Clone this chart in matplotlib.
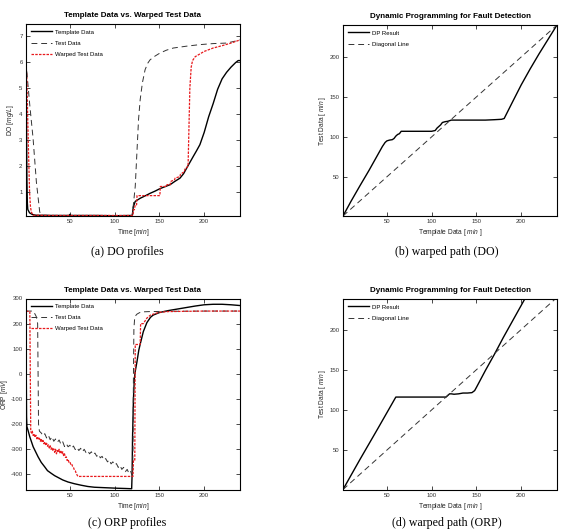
import matplotlib
matplotlib.use("Agg")
import matplotlib.pyplot as plt

plt.rcParams['font.family'] = ['Liberation Sans', 'DejaVu Sans']
plt.rcParams['mathtext.fontset'] = 'custom'
plt.rcParams['mathtext.it'] = 'Liberation Sans:italic'
plt.rcParams['mathtext.rm'] = 'Liberation Sans'
plt.rcParams['axes.unicode_minus'] = False

# ---------------- (a) DO profiles ----------------
do_tpl_t = [1, 1.5, 2, 2.5, 3, 5, 8, 12, 30, 49, 50, 51, 80, 100, 119.8, 120.3, 120.8,
            123, 128.6, 134, 139.7, 145, 150.8, 156, 162, 167, 173, 177, 180.4, 184,
            187.8, 191.5, 195.2, 200, 205, 210, 215, 220, 225, 230, 235, 238, 240]
do_tpl_v = [6.0, 4.0, 1.5, 0.6, 0.35, 0.22, 0.16, 0.13, 0.12, 0.12, 0.16, 0.12, 0.12, 0.11,
            0.12, 0.3, 0.44, 0.66, 0.78, 0.87, 0.97, 1.05, 1.15, 1.22, 1.3, 1.42, 1.55,
            1.72, 1.93, 2.15, 2.38, 2.6, 2.83, 3.3, 3.9, 4.4, 4.95, 5.35, 5.6, 5.8, 5.97,
            6.05, 6.05]

do_test_t = [1, 3, 5.2, 8.9, 12.6, 16.3, 18, 40, 60, 80, 100, 119.5, 120.5, 123, 126.7,
             128.5, 131, 134, 137, 139.6, 145, 150.7, 158, 165.5, 180, 195, 210, 225, 238, 240]
do_test_v = [6.0, 5.2, 4.35, 3.07, 1.4, 0.26, 0.13, 0.12, 0.12, 0.12, 0.12, 0.12, 0.4, 1.23,
             3.8, 4.55, 5.2, 5.7, 5.95, 6.08, 6.22, 6.34, 6.45, 6.53, 6.6, 6.66, 6.7, 6.72,
             6.82, 6.84]

do_warp_t = [1, 2, 3, 4, 5, 6, 7, 9, 30, 60, 100, 120.5, 121, 122, 123, 124.5, 125, 150.5,
             151, 158, 158.5, 162, 162.5, 167, 167.5, 173, 173.5, 178, 178.5, 182, 183, 184,
             185.5, 187, 190, 195, 200, 210, 220, 230, 240]
do_warp_v = [6.0, 5.3, 3.7, 2.3, 1.0, 0.45, 0.25, 0.13, 0.12, 0.12, 0.12, 0.12, 0.34, 0.34,
             0.53, 0.53, 0.88, 0.88, 1.23, 1.23, 1.3, 1.3, 1.42, 1.49, 1.55, 1.61, 1.7, 1.8,
             1.9, 2.0, 3.5, 5.0, 5.8, 6.05, 6.2, 6.3, 6.4, 6.53, 6.62, 6.72, 6.84]

# ---------------- (b) DP path (DO) ----------------
dp_do_x = [1, 10, 20, 30, 40, 45, 48, 50, 53, 56, 58, 60, 62, 64, 66, 80, 100, 104, 106,
           108, 110, 112, 115, 118, 122, 140, 160, 170, 178, 181, 190, 200, 210, 220, 230, 240]
dp_do_y = [1, 19.5, 39, 58, 78, 88, 93, 95, 96, 96.5, 98, 101, 103, 104, 107, 107, 107, 108,
           111, 113, 115, 118, 119, 119.5, 121, 121, 121, 121.5, 122, 123, 143, 165, 185,
           204, 222, 240]

diag_x = [1, 240]
diag_y = [1, 240]

# ---------------- (c) ORP profiles ----------------
orp_tpl_t = [1, 1.3, 1.6, 2, 3.3, 5.2, 9, 14.5, 18, 21.9, 25, 29.3, 33, 36.7, 42, 47.8, 55,
             62.6, 70, 77.4, 90, 103, 112, 119, 119.5, 120, 121, 122, 123, 125, 127, 129,
             132, 136, 140, 143, 150, 160, 170, 180, 190, 200, 210, 220, 230, 240]
orp_tpl_v = [250, 0, -170, -210, -225, -250, -290, -330, -352, -370, -385, -396, -405, -412,
             -422, -430, -437, -443, -448, -451, -453, -455, -456, -457, -400, -250, -100,
             -20, 10, 50, 95, 125, 168, 204, 225, 234, 244, 252, 258, 264, 270, 275, 277,
             277, 275, 272]

orp_test_t = [1, 9, 10, 12.5, 14, 14.5, 15, 16, 18, 20, 22, 24, 26, 28, 30, 32, 34, 36, 38,
              40, 42, 44, 46, 48, 50, 52, 54, 56, 58, 60, 62, 64, 66, 68, 70, 72, 74, 76,
              78, 80, 82, 84, 86, 88, 90, 92, 94, 96, 98, 100, 102, 104, 106, 108, 110, 112,
              114, 116, 118, 119, 120, 120.5, 121, 121.5, 122.5, 125, 128, 132, 140, 160,
              200, 240]
orp_test_v = [250, 250, 245, 228, 200, 0, -200, -228, -235, -246, -238, -255, -244, -262,
              -250, -268, -259, -272, -263, -280, -270, -289, -278, -290, -284, -296, -287,
              -301, -293, -305, -296, -310, -300, -313, -306, -318, -310, -322, -315, -328,
              -320, -334, -328, -343, -337, -350, -342, -358, -350, -363, -357, -372, -364,
              -380, -372, -389, -380, -396, -388, -400, -405, -300, 0, 180, 228, 238, 244,
              247, 248, 249, 250, 250]

orp_warp_t = [1, 5.3, 5.8, 6.3, 7.5, 8, 9, 10, 11, 12, 13, 14, 15, 16, 17, 18, 19, 20, 21,
              22, 23, 24, 25, 26, 27, 28, 29, 30, 31, 32, 33, 34, 35, 36, 37, 38, 39, 40, 41,
              42, 43, 44, 45, 46, 47, 48, 49, 50, 51, 52, 53, 54, 55, 56, 57, 58, 59, 60,
              90, 120.5, 121, 122.5, 123, 128.5, 129, 132, 136, 140, 145, 150, 160, 200, 240]
orp_warp_v = [250, 248, 0, -230, -236, -228, -245, -238, -252, -244, -258, -250, -262,
              -256, -268, -258, -272, -265, -278, -270, -284, -276, -288, -282, -295, -286,
              -300, -292, -306, -298, -312, -300, -318, -305, -312, -300, -316, -308, -318,
              -310, -325, -318, -332, -330, -345, -340, -352, -350, -360, -358, -368, -372,
              -382, -385, -395, -402, -408, -408, -408, -408, -343, -343, 117, 117, 200, 200,
              222, 234, 240, 245, 248, 250, 250]

# ---------------- (d) DP path (ORP) ----------------
dp_orp_x = [1, 20, 40, 60, 80, 100, 116, 118, 120, 122, 125, 130, 135, 140, 145, 148, 150,
            160, 170, 180, 190, 200, 205]
dp_orp_y = [1, 38.5, 77, 116, 116, 116, 116, 118, 120, 120, 119.5, 120, 121, 121, 121.5,
            124, 128, 149, 169, 190, 210, 230, 240]

fig = plt.figure(figsize=(5.61, 5.31), dpi=100)
W, H = 561.0, 531.0


def make_ax(l, t, r, b):
    return fig.add_axes([l / W, 1 - b / H, (r - l) / W, (b - t) / H])


def style(ax):
    ax.tick_params(direction='in', top=True, right=True, length=3, width=0.5,
                   labelsize=4.3, labelcolor='#333333', pad=2.5)
    for s in ax.spines.values():
        s.set_linewidth(0.8)


title_kw = dict(fontsize=5.8, fontweight='bold', pad=5)
lab_kw = dict(fontsize=4.8, color='#222222')
leg_kw = dict(loc='upper left', frameon=False, fontsize=4.3, handlelength=3.4,
              handletextpad=0.5, labelspacing=1.0, borderaxespad=0.6, borderpad=0.3)
red = '#e8191c'
AXW = 214.0

# (a)
ax = make_ax(26, 24, 240, 216)
ax.plot(do_tpl_t, do_tpl_v, color='black', lw=1.0, label='Template Data')
ax.plot(do_test_t, do_test_v, color='#333333', lw=0.7, ls=(0, (6, 4)), label='Test Data')
ax.plot(do_warp_t, do_warp_v, color=red, lw=0.9, ls=(0, (2, 1)), label='Warped Test Data')
ax.set_xlim(1, 240)
ax.set_ylim(0.1, 7.45)
ax.set_xticks([50, 100, 150, 200])
ax.set_yticks([1, 2, 3, 4, 5, 6, 7])
ax.set_title('Template Data vs. Warped Test Data', **title_kw)
ax.set_xlabel(r'Time [$min$]', labelpad=2, **lab_kw)
ax.set_ylabel(r'DO [$mg/L$]', **lab_kw)
ax.yaxis.set_label_coords((16 - 26) / AXW, 0.5)
ax.legend(**leg_kw)
style(ax)

# (b)
ax = make_ax(343, 25, 557, 216)
ax.plot(dp_do_x, dp_do_y, color='black', lw=1.0, label='DP Result')
ax.plot(diag_x, diag_y, color='#333333', lw=0.7, ls=(0, (6, 4)), label='Diagonal Line')
ax.set_xlim(1, 240)
ax.set_ylim(1, 240)
ax.set_xticks([50, 100, 150, 200])
ax.set_yticks([50, 100, 150, 200])
ax.set_title('Dynamic Programming for Fault Detection', **title_kw)
ax.set_xlabel(r'Template Data [ $min$ ]', labelpad=2, **lab_kw)
ax.set_ylabel(r'Test Data [ $min$ ]', **lab_kw)
ax.yaxis.set_label_coords((328.5 - 343) / AXW, 0.5)
ax.legend(**leg_kw)
style(ax)

# (c)
ax = make_ax(26, 298.5, 240, 490)
ax.plot(orp_tpl_t, orp_tpl_v, color='black', lw=1.0, label='Template Data')
ax.plot(orp_test_t, orp_test_v, color='#333333', lw=0.7, ls=(0, (6, 4)), label='Test Data')
ax.plot(orp_warp_t, orp_warp_v, color=red, lw=0.9, ls=(0, (2, 1)), label='Warped Test Data')
ax.set_xlim(1, 240)
ax.set_ylim(-462, 300)
ax.set_xticks([50, 100, 150, 200])
ax.set_yticks([-400, -300, -200, -100, 0, 100, 200, 300])
ax.set_title('Template Data vs. Warped Test Data', **title_kw)
ax.set_xlabel(r'Time [$min$]', labelpad=2, **lab_kw)
ax.set_ylabel(r'ORP [$mV$]', **lab_kw)
ax.yaxis.set_label_coords((10.5 - 26) / AXW, 0.5)
ax.legend(**leg_kw)
style(ax)

# (d)
ax = make_ax(343, 299, 557, 489.5)
ax.plot(dp_orp_x, dp_orp_y, color='black', lw=1.0, label='DP Result')
ax.plot(diag_x, diag_y, color='#333333', lw=0.7, ls=(0, (6, 4)), label='Diagonal Line')
ax.set_xlim(1, 240)
ax.set_ylim(1, 238)
ax.set_xticks([50, 100, 150, 200])
ax.set_yticks([50, 100, 150, 200])
ax.set_title('Dynamic Programming for Fault Detection', **title_kw)
ax.set_xlabel(r'Template Data [ $min$ ]', labelpad=2, **lab_kw)
ax.set_ylabel(r'Test Data [ $min$ ]', **lab_kw)
ax.yaxis.set_label_coords((328.5 - 343) / AXW, 0.5)
ax.legend(**leg_kw)
style(ax)

cap_kw = dict(ha='center', va='center', fontsize=8.6, family='Liberation Serif')
fig.text(127.5 / W, 1 - 251.7 / H, '(a) DO profiles', **cap_kw)
fig.text(447 / W, 1 - 251.7 / H, '(b) warped path (DO)', **cap_kw)
fig.text(127.5 / W, 1 - 523.3 / H, '(c) ORP profiles', **cap_kw)
fig.text(447 / W, 1 - 523.3 / H, '(d) warped path (ORP)', **cap_kw)

fig.savefig('out.png', dpi=100)
